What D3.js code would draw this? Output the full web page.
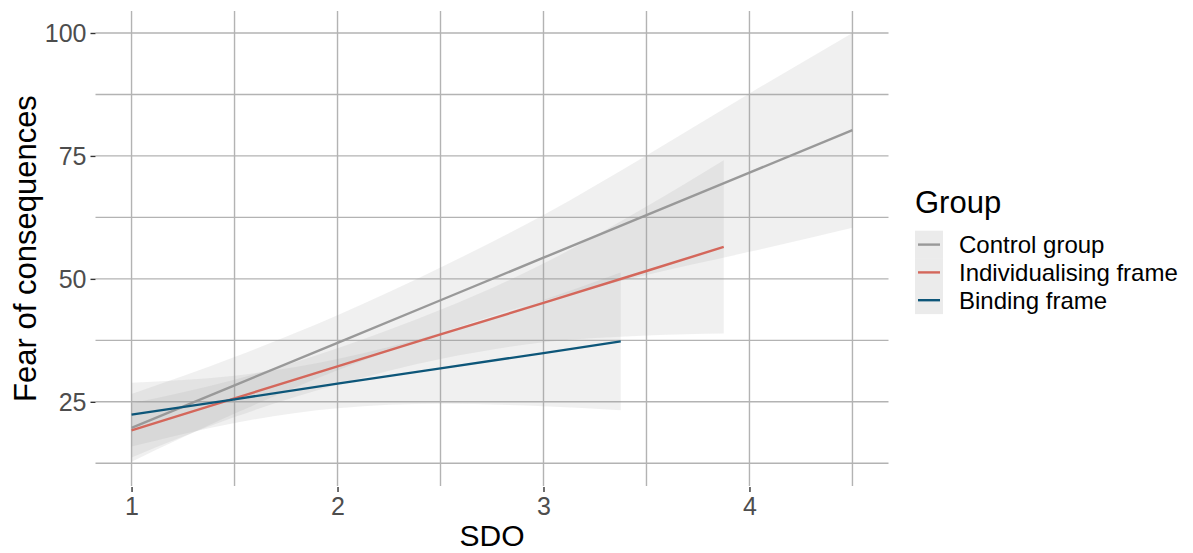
<!DOCTYPE html>
<html>
<head>
<meta charset="utf-8">
<script src="https://cdn.jsdelivr.net/npm/d3@7"></script>
<style>
  html, body { margin: 0; padding: 0; background: #ffffff; }
  svg { display: block; font-family: "Liberation Sans", Arial, sans-serif; }
</style>
</head>
<body>
<svg id="chart" width="1193" height="553"></svg>
<script>
// ---- data ----
const groups = ["Control group", "Individualising frame", "Binding frame"];

const controlX     = [1, 1.5, 2, 2.5, 3, 3.5, 4, 4.5];
const controlFit   = [19.7, 28.35, 37.0, 45.65, 54.3, 62.95, 71.6, 80.25];
const controlLower = [12.8, 22.6, 31.4, 39.0, 45.6, 50.8, 55.5, 60.4];
const controlUpper = [26.6, 34.1, 42.6, 52.3, 63.0, 75.1, 87.7, 100.0];

const indivX     = [1, 1.5, 2, 2.5, 3, 3.5, 3.875];
const indivFit   = [19.2, 25.7, 32.2, 38.7, 45.1, 51.6, 56.5];
const indivLower = [13.7, 21.9, 28.5, 33.7, 37.1, 38.5, 38.9];
const indivUpper = [24.7, 29.5, 35.9, 43.7, 53.1, 64.7, 74.1];

const bindX     = [1, 1.5, 2, 2.5, 3, 3.375];
const bindFit   = [22.4, 25.5, 28.7, 31.8, 34.9, 37.3];
const bindLower = [15.9, 20.7, 23.7, 24.6, 24.1, 23.3];
const bindUpper = [28.9, 30.3, 33.7, 39.0, 45.7, 51.3];

const xMajorTicks = [1, 2, 3, 4];
const xMinorTicks = [1.5, 2.5, 3.5, 4.5];
const yMajorTicks = [25, 50, 75, 100];
const yMinorTicks = [12.5, 37.5, 62.5, 87.5];

const xTitle = "SDO";
const yTitle = "Fear of consequences";
const legendTitle = "Group";

// ---- build series ----
function build(xs, fit, lo, hi) {
  return xs.map((x, i) => ({x: x, fit: fit[i], lo: lo[i], hi: hi[i]}));
}
const series = [
  {name: groups[0], values: build(controlX, controlFit, controlLower, controlUpper)},
  {name: groups[1], values: build(indivX, indivFit, indivLower, indivUpper)},
  {name: groups[2], values: build(bindX, bindFit, bindLower, bindUpper)}
];

// ---- layout ----
const svg = d3.select("#chart");
const L = 95.5, R = 888.5, T = 11, B = 486;

const x = d3.scaleLinear().domain([0.825, 4.675]).range([L, R]);
const y = d3.scaleLinear().domain([7.88, 104.47]).range([B, T]);
const color = d3.scaleOrdinal().domain(groups).range(["#999999", "#D4675B", "#0D5679"]);

const gridColor = "#b3b3b3";
const grid = svg.append("g");
grid.selectAll("line.hx")
  .data(yMinorTicks.concat(yMajorTicks)).join("line")
  .attr("x1", L).attr("x2", R)
  .attr("y1", d => y(d)).attr("y2", d => y(d))
  .attr("stroke", gridColor).attr("stroke-width", 1.4);
grid.selectAll("line.vx")
  .data(xMinorTicks.concat(xMajorTicks)).join("line")
  .attr("class", "vx")
  .attr("x1", d => x(d)).attr("x2", d => x(d))
  .attr("y1", T).attr("y2", B)
  .attr("stroke", gridColor).attr("stroke-width", 1.4);

// ---- ribbons ----
const area = d3.area()
  .x(d => x(d.x)).y0(d => y(d.lo)).y1(d => y(d.hi))
  .curve(d3.curveMonotoneX);
svg.append("g").selectAll("path")
  .data(series).join("path")
  .attr("d", d => area(d.values))
  .attr("fill", "#999999").attr("fill-opacity", 0.15);

// ---- lines ----
const line = d3.line().x(d => x(d.x)).y(d => y(d.fit));
svg.append("g").selectAll("path")
  .data(series).join("path")
  .attr("d", d => line(d.values))
  .attr("fill", "none")
  .attr("stroke", d => color(d.name))
  .attr("stroke-width", 2.4);

// ---- axes ----
const xAxis = d3.axisBottom(x).tickValues(xMajorTicks).tickSize(5).tickPadding(5).tickFormat(d3.format("d"));
const gx = svg.append("g").attr("transform", `translate(0,${B + 1})`).call(xAxis);
gx.select(".domain").remove();
gx.selectAll(".tick line").attr("stroke", "#333333").attr("stroke-width", 1.4);
gx.selectAll(".tick text").attr("fill", "#4d4d4d").style("font-size", "25px")
  .attr("dy", null).attr("y", 28);

const yAxis = d3.axisLeft(y).tickValues(yMajorTicks).tickSize(5).tickPadding(4).tickFormat(d3.format("d"));
const gy = svg.append("g").attr("transform", `translate(${L},0)`).call(yAxis);
gy.select(".domain").remove();
gy.selectAll(".tick line").attr("stroke", "#333333").attr("stroke-width", 1.4);
gy.selectAll(".tick text").attr("fill", "#4d4d4d").style("font-size", "25px")
  .attr("x", -9).attr("dy", "0.35em");

// ---- axis titles ----
svg.append("text")
  .attr("x", (L + R) / 2).attr("y", 546)
  .attr("text-anchor", "middle")
  .style("font-size", "30px").attr("fill", "#000")
  .text(xTitle);
svg.append("text")
  .attr("transform", `translate(36,${(T + B) / 2}) rotate(-90)`)
  .attr("text-anchor", "middle")
  .style("font-size", "31px").attr("fill", "#000")
  .text(yTitle);

// ---- legend ----
const lg = svg.append("g").attr("transform", "translate(915,0)");
lg.append("text").attr("x", 0).attr("y", 213)
  .style("font-size", "31px").attr("fill", "#000").text(legendTitle);
const keyH = 27.8, keyTop = 230.7;
const items = lg.selectAll("g.item").data(groups).join("g")
  .attr("transform", (d, i) => `translate(0,${keyTop + i * keyH})`);
items.append("rect").attr("x", 0).attr("y", 0).attr("width", 28).attr("height", keyH)
  .attr("fill", "#999999").attr("fill-opacity", 0.2);
items.append("line").attr("x1", 3).attr("x2", 25)
  .attr("y1", keyH / 2).attr("y2", keyH / 2)
  .attr("stroke", d => color(d)).attr("stroke-width", 2.4);
items.append("text").attr("x", 44).attr("y", keyH / 2 + 8.5)
  .style("font-size", "24px").attr("fill", "#000").text(d => d);
</script>
</body>
</html>
